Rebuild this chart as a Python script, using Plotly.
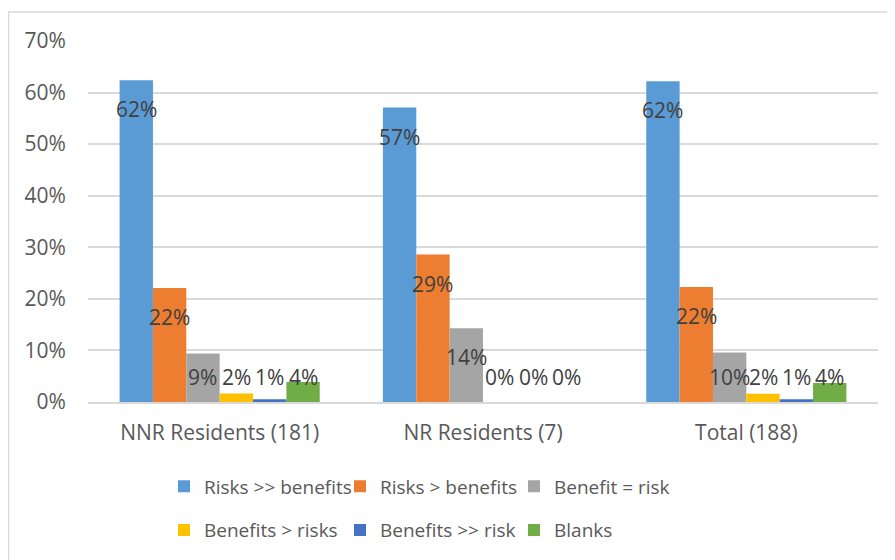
import plotly.graph_objects as go

categories = ["NNR Residents (181)", "NR Residents (7)", "Total (188)"]
series_names = ["Risks >> benefits", "Risks > benefits", "Benefit = risk",
                "Benefits > risks", "Benefits >> risk", "Blanks"]
risks_much = [0.624, 0.571, 0.622]
risks_more = [0.221, 0.286, 0.223]
equal = [0.094, 0.143, 0.096]
benefits_more = [0.0166, 0.0, 0.016]
benefits_much = [0.0055, 0.0, 0.0053]
blanks = [0.0387, 0.0, 0.037]
series_values = [risks_much, risks_more, equal, benefits_more, benefits_much, blanks]
colors = ["#5B9BD5", "#ED7D31", "#A5A5A5", "#FFC000", "#4472C4", "#70AD47"]
ytick_vals = [0, 0.1, 0.2, 0.3, 0.4, 0.5, 0.6, 0.7]
ytick_text = ["0%", "10%", "20%", "30%", "40%", "50%", "60%", "70%"]

FONT = "Open Sans"
FS = 21
FS_LEG = 19
# page body has an 8px margin, so the figure is drawn 8px right/down
W, H = 887, 552
ml, mr, mt, mb = 80, 17, 33, 158
pw = W - ml - mr
ph = H - mt - mb
bargap = 0.24
n = len(series_names)
bw = (1 - bargap) / n

legend_ids = ["legend", "legend2", "legend3"]
fig = go.Figure()
for i, (name, vals, c) in enumerate(zip(series_names, series_values, colors)):
    fig.add_trace(go.Bar(
        x=categories, y=vals, name=name, marker=dict(color=c, line=dict(width=0)),
        legend=legend_ids[i % 3], legendgroup=name, hoverinfo="skip"))
    for j, v in enumerate(vals):
        fig.add_annotation(
            x=j + (i - (n - 1) / 2) * bw, y=max(v, 0.105), xref="x", yref="y",
            text=f"{round(v * 100):.0f}%", showarrow=False, yshift=-29,
            font=dict(family=FONT, size=FS, color="#404040"))

# chart outer border
fig.add_shape(type="rect", xref="paper", yref="paper",
              x0=(0.6 - ml) / pw, x1=(W + 20 - ml) / pw,
              y0=-(H + 20 - mt - ph) / ph, y1=(ph + mt - 4) / ph,
              line=dict(color="#D9D9D9", width=1.3), layer="below")

col_px = [171, 347, 521]
leg_common = dict(orientation="v", font=dict(family=FONT, size=FS_LEG, color="#595959"),
                  bgcolor="rgba(0,0,0,0)", tracegroupgap=16, yanchor="top",
                  y=-(459.5 - mt - ph) / ph, xanchor="left")
layout_legends = {}
for k, lid in enumerate(legend_ids):
    layout_legends[lid] = dict(leg_common, x=(col_px[k] - 15 - ml) / pw)

fig.update_layout(
    width=W, height=H,
    margin=dict(l=ml, r=mr, t=mt, b=mb, autoexpand=False),
    paper_bgcolor="white", plot_bgcolor="white",
    barmode="group", bargap=bargap, bargroupgap=0,
    showlegend=True,
    xaxis=dict(showgrid=False, showline=True, linecolor="#D9D9D9", linewidth=1.5,
               ticks="outside", ticklen=11, tickcolor="rgba(0,0,0,0)",
               tickfont=dict(family=FONT, size=FS, color="#595959")),
    yaxis=dict(range=[0, 0.7], tickvals=ytick_vals, ticktext=ytick_text,
               showgrid=True, gridcolor="#D9D9D9", gridwidth=1.5, zeroline=False,
               ticks="outside", ticklen=17, tickcolor="rgba(0,0,0,0)",
               tickfont=dict(family=FONT, size=FS, color="#595959")),
    **layout_legends,
)
fig.write_html("out.html")
